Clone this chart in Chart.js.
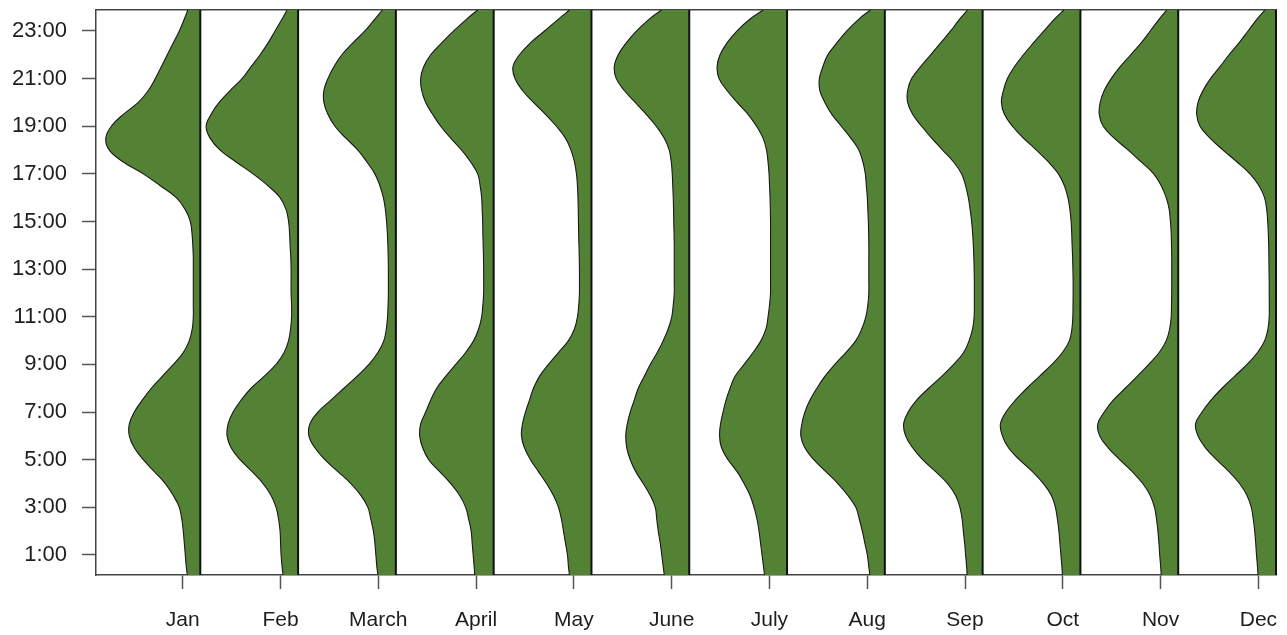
<!DOCTYPE html>
<html>
<head>
<meta charset="utf-8">
<title>Hourly activity by month</title>
<script src="https://cdn.jsdelivr.net/npm/chart.js@4.4.1/dist/chart.umd.min.js"></script>
<style>
  html, body { margin: 0; padding: 0; background: #ffffff; }
  #wrap { width: 1287px; height: 635px; }
</style>
</head>
<body>
<div id="wrap"><canvas id="chart" width="1287" height="635"></canvas></div>
<script>
// Categories and axis labels
const months = ['Jan', 'Feb', 'March', 'April', 'May', 'June', 'July', 'Aug', 'Sep', 'Oct', 'Nov', 'Dec'];
const yTickValues = [1, 3, 5, 7, 9, 11, 13, 15, 17, 19, 21, 23];
const yTickLabels = ['1:00', '3:00', '5:00', '7:00', '9:00', '11:00', '13:00', '15:00', '17:00', '19:00', '21:00', '23:00'];

// Hour of day at which each density is evaluated (half-hour steps)
const hours = [0.16, 0.5, 1, 1.5, 2, 2.5, 3, 3.5, 4, 4.5, 5, 5.5, 6, 6.5, 7, 7.5, 8, 8.5, 9, 9.5,
               10, 10.5, 11, 11.5, 12, 12.5, 13, 13.5, 14, 14.5, 15, 15.5, 16, 16.5, 17, 17.5, 18, 18.5,
               19, 19.5, 20, 20.5, 21, 21.5, 22, 22.5, 23, 23.5, 23.88];

// Relative density of activity at each hour, one list per month
const densJan = [13, 14, 15, 16, 17, 18.5, 21, 27, 35, 46, 57, 66, 71, 71, 66, 58, 49, 38, 27, 17,
                 11, 8, 7, 7, 7, 7, 7, 7, 7.5, 8.3, 10, 15, 24, 40, 57, 77, 91, 94.5,
                 89, 77, 62, 52, 45, 39, 33, 27, 21, 16, 12.5];
const densFeb = [15, 16, 17, 17.5, 18, 19.5, 22, 27, 35, 46, 58, 67, 71, 70, 65, 57, 47, 34, 22, 14,
                 9.5, 7.5, 6.5, 6.5, 7, 7, 7, 7.3, 8, 8.5, 9.5, 12, 18, 30, 45, 62, 78, 88,
                 92, 87, 79, 68, 56, 47, 38, 30, 23, 16, 11];
const densMar = [18, 19, 20, 21, 22.5, 25, 28, 35, 45, 58, 71, 81, 87, 86, 78, 65, 52, 39, 27, 18,
                 12, 9.5, 8.3, 7.8, 7.5, 7.5, 7.5, 7.7, 8, 8.5, 9.3, 10.5, 12.5, 16, 21, 29, 38, 50,
                 61, 68, 72, 72, 68, 62, 54, 43, 31, 21, 13.5];
const densApr = [19, 19.5, 20.5, 21.5, 22.5, 25, 28, 34, 43, 54, 65, 71, 74, 73, 68, 63, 57, 48, 38, 28,
                 20, 15, 12, 10.8, 10, 10, 10, 10.2, 10.5, 10.8, 11, 11.5, 12, 13.5, 16, 23, 32, 43,
                 53, 61, 68, 72, 73, 70, 63, 52, 40, 27, 16];
const densMay = [22, 23, 24, 26, 28, 30, 33, 38, 45, 53, 61, 67, 70, 69, 66, 62, 58, 52, 43, 33,
                 23, 17, 14, 12.7, 12, 12, 12, 12.2, 12.5, 12.8, 13, 13.2, 13.5, 14, 15, 17, 20.5, 26,
                 35, 46, 58, 69, 76.5, 78.5, 72, 61, 47, 33, 22];
const densJun = [25, 26, 27.5, 29, 31, 32.5, 34, 39, 46, 53.5, 59, 62.5, 63.5, 62, 59, 55, 51, 45, 39, 32,
                 26, 21, 17.5, 16, 15, 15, 15, 15, 15, 15.2, 15.5, 15.7, 16, 16.5, 17, 18, 20, 25,
                 33, 43, 54, 65, 73, 75, 71, 63, 52.7, 40, 27.7];
const densJul = [22.5, 23.5, 25, 26.5, 28, 30, 33, 37, 43, 50, 59, 65.5, 67.5, 66.5, 64, 61, 57, 52, 43, 34,
                 26, 21, 19, 17.5, 16.5, 16.5, 16.5, 16.5, 16.5, 16.5, 16.5, 16.7, 17, 17.5, 18, 19, 20.5, 24,
                 30.5, 39, 50, 60, 68, 70, 67, 60, 50, 37, 24];
const densAug = [15, 16, 17.5, 20, 22.5, 25.5, 29, 37, 47, 59, 71, 80, 84, 83, 80, 75, 68, 60, 50, 39,
                 29, 23, 19, 17, 16, 16, 16, 16, 16, 16.2, 16.5, 17, 17.5, 18.5, 19.5, 22, 26, 34,
                 43.5, 53, 60, 65, 65.5, 62, 57, 48, 38, 26, 14.5];
const densSep = [15.5, 16, 17, 18, 19.3, 20.5, 22.7, 27, 35, 47, 60, 70, 77, 79, 74.5, 66, 54, 41, 29, 19,
                 13.5, 10, 8.5, 8.3, 8.3, 8.3, 8.5, 8.8, 9.3, 10, 11, 12.5, 14.3, 17, 21, 29, 40, 51,
                 61, 70, 75, 75, 71, 62, 52, 42, 32, 23, 15];
const densOct = [18, 18.5, 19.5, 20.5, 21.5, 23, 25, 29, 37, 48, 61, 72, 78, 80, 74.5, 65, 53.5, 41, 28.5, 18,
                 11, 8.5, 7.6, 7.4, 7.3, 7.3, 7.5, 7.8, 8.3, 8.7, 9.3, 10.5, 12.5, 16, 22, 32, 44, 57,
                 68, 76, 79, 77, 73, 66, 57, 47, 36.5, 26, 16.5];
const densNov = [17, 17.5, 18.5, 19.3, 20.3, 21.7, 23.7, 28, 35.5, 46, 58.5, 70, 78.5, 80.5, 74, 65, 53, 41, 29.5, 19,
                 12, 8.5, 7, 6.7, 6.5, 6.5, 6.5, 6.5, 6.7, 7, 7.8, 9, 12, 17, 24.5, 37, 50, 64,
                 75, 79, 78, 74, 67, 58, 47.5, 37, 28, 19, 11.5];
const densDec = [18, 18.5, 19.5, 20.3, 21.3, 22.7, 24.7, 29, 36.5, 47, 59.5, 70.5, 78, 80.5, 74, 65, 54, 41.5, 29, 18.5,
                 11.3, 8, 6.8, 6.7, 6.8, 6.8, 7, 7.1, 7.3, 7.7, 8.3, 9.3, 11.5, 17, 26, 39, 53, 66,
                 76, 79.3, 78, 73, 65.5, 56, 47, 37, 28, 19, 11];

const densities = [densJan, densFeb, densMar, densApr, densMay, densJun,
                   densJul, densAug, densSep, densOct, densNov, densDec];

// Drawing settings
const FILL_COLOR = '#548235';
const OUTLINE_COLOR = '#1a1a1a';
const AXIS_COLOR = '#444444';
const TICK_COLOR = '#555555';
const TEXT_COLOR = '#1e1e1e';
const BASE_SHIFT = 0.18;        // each half-violin hangs left of a line just right of its month tick
const WIDTH_SCALE = 1 / 97.8;   // density unit -> x-axis units
const X_MIN = 0.1135;
const X_MAX = 12 + BASE_SHIFT;
const Y_MIN = hours[0];
const Y_MAX = hours[hours.length - 1];

Chart.defaults.font.family = '"Liberation Sans", Arial, Helvetica, sans-serif';
Chart.defaults.color = TEXT_COLOR;

const datasets = [];
months.forEach((m, i) => {
  const base = i + 1 + BASE_SHIFT;
  // vertical spine of the half-violin
  datasets.push({
    label: m + ' spine',
    data: [{ x: base, y: Y_MIN }, { x: base, y: Y_MAX }],
    xAxisID: 'x', yAxisID: 'y',
    borderColor: '#111111',
    borderWidth: 2,
    pointRadius: 0,
    tension: 0,
    fill: false,
    clip: false,
    order: 0
  });
  // density outline, filled back to the spine
  datasets.push({
    label: m,
    data: hours.map((h, j) => ({ x: base - densities[i][j] * WIDTH_SCALE, y: h })),
    xAxisID: 'x', yAxisID: 'y',
    borderColor: OUTLINE_COLOR,
    borderWidth: 1.1,
    backgroundColor: FILL_COLOR,
    fill: { value: base },
    pointRadius: 0,
    tension: 0.4,
    order: 1
  });
});

// keep the plot box exactly where the axes are sized, without label overflow padding
const noOverflow = s => { s.paddingTop = 0; s.paddingBottom = 0; s.paddingLeft = 0; s.paddingRight = 0; };

new Chart(document.getElementById('chart'), {
  type: 'line',
  data: { datasets },
  options: {
    indexAxis: 'y',
    responsive: false,
    animation: false,
    events: [],
    layout: { padding: { top: 10, right: 11, left: 0, bottom: 0 } },
    plugins: { legend: { display: false }, tooltip: { enabled: false } },
    scales: {
      x: {
        type: 'linear',
        position: 'bottom',
        min: X_MIN,
        max: X_MAX,
        afterBuildTicks: s => { s.ticks = months.map((_, i) => ({ value: i + 1 })); },
        afterFit: s => { s.height = 60; noOverflow(s); },
        ticks: {
          callback: (v, idx) => months[idx],
          autoSkip: false,
          maxRotation: 0,
          minRotation: 0,
          padding: 19,
          font: { size: 21 },
          color: TEXT_COLOR
        },
        grid: { drawOnChartArea: false, drawTicks: true, tickLength: 14, tickColor: TICK_COLOR, tickWidth: 1.5 },
        border: { display: true, color: AXIS_COLOR, width: 1.5 }
      },
      x2: {
        type: 'linear',
        axis: 'x',
        position: 'top',
        min: X_MIN,
        max: X_MAX,
        afterFit: s => { s.height = 0; noOverflow(s); },
        ticks: { display: false },
        grid: { display: false, drawTicks: false },
        border: { display: true, color: AXIS_COLOR, width: 1.5 }
      },
      y: {
        type: 'linear',
        position: 'left',
        min: Y_MIN,
        max: Y_MAX,
        afterBuildTicks: s => { s.ticks = yTickValues.map(v => ({ value: v })); },
        afterFit: s => { s.width = 96; noOverflow(s); },
        ticks: {
          callback: (v, idx) => yTickLabels[idx],
          autoSkip: false,
          padding: 15,
          font: { size: 22 },
          color: TEXT_COLOR
        },
        grid: { drawOnChartArea: false, drawTicks: true, tickLength: 14, tickColor: TICK_COLOR, tickWidth: 1.5 },
        border: { display: true, color: AXIS_COLOR, width: 1.5 }
      }
    }
  }
});
</script>
</body>
</html>
